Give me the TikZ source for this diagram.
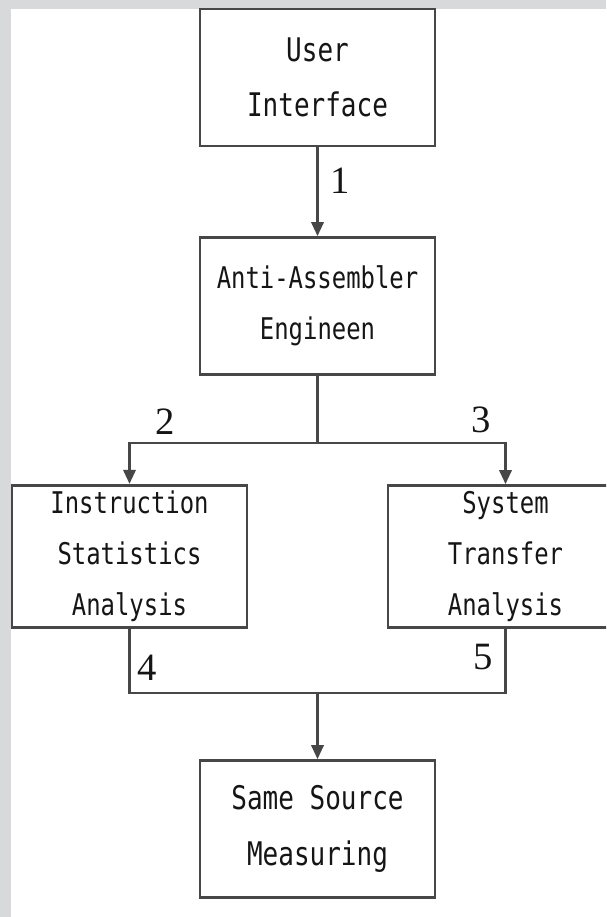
\documentclass[tikz,border=0pt]{standalone}
\usepackage{fontspec}
\usetikzlibrary{arrows.meta}
\newfontfamily\boxfont[FakeStretch=0.8]{DejaVu Sans Mono}
\newfontfamily\numfont{Liberation Serif}
\definecolor{bggray}{HTML}{D8D9DB}
\definecolor{linegray}{HTML}{474747}
\definecolor{inkgray}{HTML}{151515}

\begin{document}
\begin{tikzpicture}[
  box/.style={draw=linegray, line width=1.5pt, minimum width=4.7cm, minimum height=2.74cm,
    align=center, text=inkgray, font=\fontsize{17}{29}\boxfont},
  widebox/.style={box, font=\fontsize{18.5}{31.5}\boxfont},
  num/.style={text=inkgray, font=\fontsize{22}{22}\numfont},
  >={Triangle[width=7pt,length=8pt]}
]
  \useasboundingbox (0,0) rectangle (12.12,18.34);
  \fill[bggray] (0,0) rectangle (12.12,18.34);
  \fill[white] (0.22,0) rectangle (12.12,18.16);
  \clip (0,0) rectangle (12.12,18.34);

  \node[widebox] (user) at (6.35,16.79) {User\\Interface};
  \node[box] (anti) at (6.35,12.22) {Anti-Assembler\\Engineen};
  \node[box] (instr) at (2.59,7.21) {Instruction\\Statistics\\Analysis};
  \node[box] (system) at (10.11,7.21) {System\\Transfer\\Analysis};
  \node[widebox] (same) at (6.35,1.76) {Same Source\\Measuring};

  \coordinate (split) at (6.35,9.48);
  \coordinate (join) at (6.35,4.48);

  \node[num] (num1) at (6.8,14.72) {1};
  \node[num] (num2) at (3.3,9.9) {2};
  \node[num] (num3) at (9.62,9.94) {3};
  \node[num] (num4) at (2.94,4.98) {4};
  \node[num] (num5) at (9.66,5.2) {5};

  \draw[->, linegray, line width=1.5pt] (user) -- (anti);
  \draw[linegray, line width=1.5pt] (anti) -- (split);
  \draw[->, linegray, line width=1.5pt] (split) -| (instr);
  \draw[->, linegray, line width=1.5pt] (split) -| (system);
  \draw[linegray, line width=1.5pt] (instr) |- (join);
  \draw[linegray, line width=1.5pt] (system) |- (join);
  \draw[->, linegray, line width=1.5pt] (join) -- (same);

\end{tikzpicture}
\end{document}
